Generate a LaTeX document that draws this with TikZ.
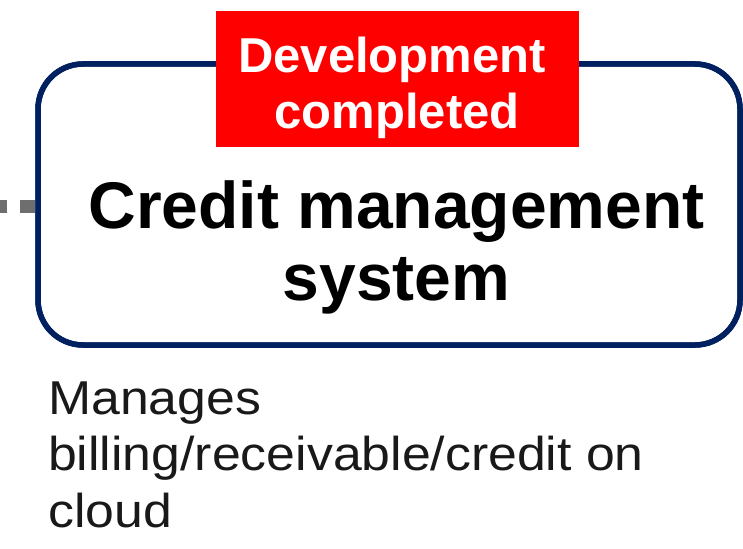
\documentclass[tikz,border=0pt]{standalone}
\usepackage{fontspec}
\setmainfont{Liberation Sans}
\newfontfamily\notefont[FakeStretch=1.09]{Liberation Sans}
\definecolor{navy}{HTML}{002060}
\definecolor{linkgray}{HTML}{6E6E6E}
\definecolor{tagred}{HTML}{FF0000}
\tikzset{
  sysbox/.style={draw=navy, line width=5.5pt, rounded corners=45pt, fill=white,
    minimum width=702pt, minimum height=281pt, inner sep=0pt},
  tagbox/.style={fill=tagred, minimum width=363pt, minimum height=136pt, inner sep=0pt},
  tagtext/.style={anchor=base, text=white, inner sep=0pt, font=\fontsize{49}{56}\selectfont\bfseries},
  titletext/.style={anchor=base, inner sep=0pt, font=\fontsize{66}{72}\selectfont\bfseries},
  notetext/.style={anchor=base west, inner sep=0pt, text=black!90, font=\notefont\fontsize{47.5}{57}\selectfont},
  link/.style={draw=linkgray, line width=13pt, dash pattern=on 15pt off 13pt}
}
\begin{document}
\begin{tikzpicture}[x=1pt, y=-1pt]
  \useasboundingbox (0,0) rectangle (743,548);
  % dotted link coming in from the left
  \coordinate (lend) at (-10,206);
  \node[sysbox] (sys) at (389,204.5) {};
  \draw[link] (sys.west |- lend) -- (lend);
  \node[sysbox, fill=none] (sysframe) at (389,204.5) {};
  % status tag on the top edge
  \node[tagbox] (tag) at (397.5,79) {};
  \node[tagtext] (tag1) at (392,73) {Development};
  \node[tagtext] (tag2) at (397,129) {completed};
  % system name
  \node[titletext] (title1) at (396.5,228) {Credit management};
  \node[titletext] (title2) at (396.5,300) {system};
  % description below the box
  \node[notetext] (note1) at (48,414) {Manages};
  \node[notetext] (note2) at (48,470) {billing/receivable/credit on};
  \node[notetext] (note3) at (48,527) {cloud};
\end{tikzpicture}
\end{document}
